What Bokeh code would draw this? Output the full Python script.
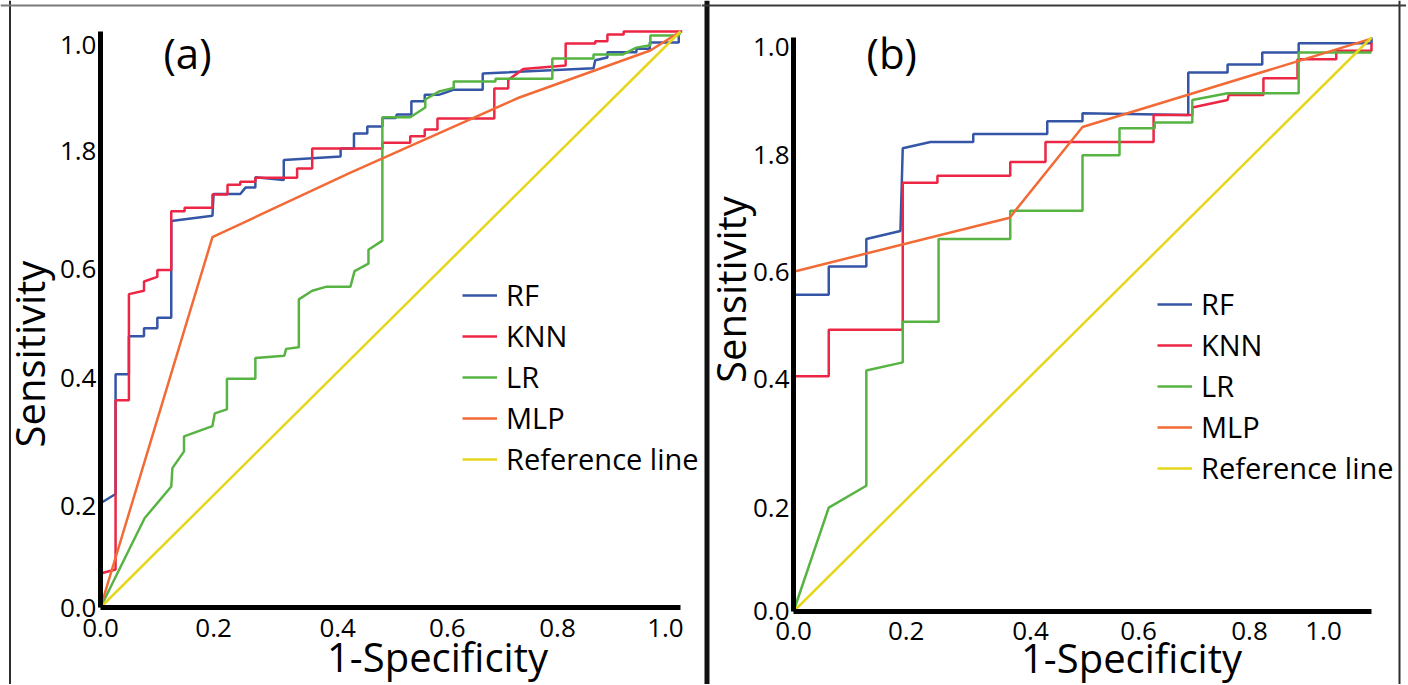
from bokeh.plotting import figure
from bokeh.layouts import row
from bokeh.models import LinearAxis, FixedTicker, Span, Label, Range1d
from bokeh.embed import file_html
from bokeh.resources import INLINE

FONT = "Open Sans"

# ---------------- data ----------------
series_names = ["RF", "KNN", "LR", "MLP", "Reference line"]
series_colors = ["#3556a6", "#ec2644", "#57b443", "#f26a36", "#e6d61c"]

# Panel (a)
a_rf_x = [0, 0.026, 0.026, 0.049, 0.049, 0.075, 0.075, 0.098, 0.098, 0.122, 0.122, 0.193, 0.195, 0.241, 0.250, 0.267, 0.267,
          0.316, 0.316, 0.414, 0.414, 0.437, 0.437, 0.460, 0.460, 0.486, 0.486, 0.509, 0.511, 0.536, 0.536, 0.559, 0.559,
          0.583, 0.595, 0.609, 0.659, 0.659, 0.850, 0.853, 0.874, 0.874, 0.924, 0.924, 0.947, 0.947, 0.997, 0.997]
a_rf_y = [0.181, 0.197, 0.405, 0.405, 0.471, 0.471, 0.485, 0.485, 0.503, 0.503, 0.671, 0.680, 0.718, 0.718, 0.729, 0.729, 0.747,
          0.742, 0.777, 0.783, 0.797, 0.797, 0.823, 0.823, 0.835, 0.835, 0.850, 0.850, 0.856, 0.856, 0.879, 0.879, 0.890,
          0.890, 0.894, 0.899, 0.899, 0.927, 0.936, 0.950, 0.955, 0.964, 0.964, 0.970, 0.970, 0.981, 0.981, 0.995]

a_knn_x = [0, 0.026, 0.026, 0.049, 0.049, 0.075, 0.075, 0.098, 0.098, 0.122, 0.122, 0.145, 0.145, 0.193, 0.193, 0.219, 0.219,
           0.241, 0.241, 0.267, 0.267, 0.339, 0.339, 0.365, 0.365, 0.486, 0.486, 0.534, 0.534, 0.559, 0.559, 0.581, 0.581,
           0.679, 0.679, 0.703, 0.703, 0.729, 0.802, 0.802, 0.853, 0.853, 0.874, 0.874, 0.902, 0.902, 1.003]
a_knn_y = [0.059, 0.066, 0.360, 0.360, 0.544, 0.550, 0.566, 0.574, 0.586, 0.586, 0.688, 0.688, 0.694, 0.694, 0.717, 0.717, 0.734,
           0.734, 0.739, 0.739, 0.746, 0.746, 0.762, 0.762, 0.797, 0.797, 0.807, 0.807, 0.818, 0.818, 0.830, 0.830, 0.849,
           0.849, 0.901, 0.901, 0.916, 0.935, 0.941, 0.979, 0.979, 0.983, 0.983, 0.995, 0.995, 1.0, 1.0]

a_lr_x = [0, 0.076, 0.122, 0.124, 0.144, 0.144, 0.193, 0.197, 0.218, 0.218, 0.267, 0.267, 0.317, 0.320, 0.342, 0.342, 0.365,
          0.390, 0.431, 0.438, 0.462, 0.462, 0.486, 0.486, 0.534, 0.560, 0.560, 0.584, 0.609, 0.609, 0.681, 0.681, 0.779,
          0.779, 0.850, 0.850, 0.900, 0.924, 0.948, 0.948, 0.997, 1.0]
a_lr_y = [0, 0.155, 0.210, 0.242, 0.271, 0.297, 0.315, 0.337, 0.344, 0.397, 0.397, 0.433, 0.437, 0.449, 0.452, 0.535, 0.550,
          0.557, 0.557, 0.584, 0.597, 0.621, 0.637, 0.851, 0.851, 0.868, 0.882, 0.896, 0.902, 0.913, 0.913, 0.918, 0.918,
          0.953, 0.953, 0.960, 0.960, 0.972, 0.976, 0.993, 0.993, 1.0]

a_mlp_x = [0, 0.193, 0.431, 0.721, 0.948, 1.0]
a_mlp_y = [0, 0.643, 0.755, 0.885, 0.967, 1.0]

# Panel (b)
b_rf_x = [0, 0.061, 0.061, 0.126, 0.126, 0.185, 0.189, 0.237, 0.311, 0.311, 0.439, 0.439, 0.5, 0.5, 0.683, 0.683, 0.751,
          0.751, 0.811, 0.811, 0.874, 0.874, 1.0, 1.0]
b_rf_y = [0.552, 0.552, 0.601, 0.601, 0.649, 0.663, 0.807, 0.818, 0.818, 0.832, 0.832, 0.854, 0.854, 0.868, 0.865, 0.939, 0.939,
          0.953, 0.953, 0.974, 0.974, 0.990, 0.990, 1.0]

b_knn_x = [0, 0.061, 0.061, 0.189, 0.189, 0.249, 0.249, 0.375, 0.375, 0.436, 0.436, 0.623, 0.623, 0.69, 0.69, 0.751, 0.753,
           0.813, 0.813, 0.872, 0.872, 0.939, 0.939, 1.0, 1.0]
b_knn_y = [0.41, 0.41, 0.491, 0.491, 0.747, 0.747, 0.759, 0.759, 0.783, 0.783, 0.818, 0.818, 0.865, 0.865, 0.878, 0.891, 0.90,
           0.90, 0.929, 0.929, 0.962, 0.962, 0.977, 0.977, 0.991]

b_lr_x = [0, 0.061, 0.126, 0.126, 0.189, 0.189, 0.251, 0.251, 0.375, 0.375, 0.5, 0.5, 0.564, 0.564, 0.625, 0.625, 0.69, 0.69,
          0.751, 0.874, 0.874, 1.0]
b_lr_y = [0, 0.181, 0.219, 0.420, 0.434, 0.505, 0.505, 0.649, 0.649, 0.698, 0.698, 0.795, 0.795, 0.842, 0.842, 0.852, 0.852,
          0.891, 0.903, 0.903, 0.974, 0.974]

b_mlp_x = [0, 0.374, 0.5, 1.0]
b_mlp_y = [0.592, 0.686, 0.844, 0.998]

ref_x = [0, 1]
ref_y = [0, 1]

# tick labels (as printed in the figure) and their positions on the axes
tick_labels_x = ["0.0", "0.2", "0.4", "0.6", "0.8", "1.0"]
tick_labels_y = ["0.0", "0.2", "0.4", "0.6", "1.8", "1.0"]
a_xtick_pos = [0.0, 0.195, 0.409, 0.598, 0.788, 0.974]
a_ytick_pos = [0.0, 0.176, 0.398, 0.588, 0.793, 0.977]
b_xtick_pos = [0.0, 0.195, 0.41, 0.597, 0.789, 0.917]
b_ytick_pos = [0.0, 0.181, 0.405, 0.592, 0.795, 0.983]

x_title = "1-Specificity"
y_title = "Sensitivity"


def make_panel(width, height, xr, yr, curves, xticks, yticks, tag, tag_pos,
               legend_loc, xt_center, yt_center, xt_standoff, yt_standoff,
               xlab_standoff, ylab_standoff, borders):
    p = figure(width=width, height=height, output_backend="svg", toolbar_location=None,
               x_axis_type=None, y_axis_type=None, min_border=0,
               x_range=Range1d(*xr), y_range=Range1d(*yr))
    p.outline_line_color = None
    p.background_fill_color = "white"
    p.border_fill_color = "white"

    # panel frame lines
    for loc, dim, col, lw in borders:
        p.add_layout(Span(location=loc, dimension=dim, line_color=col, line_width=lw))

    for (xs, ys), name, col in zip(curves, series_names, series_colors):
        p.line(xs, ys, line_color=col, line_width=2.5, legend_label=name)

    # axes with ticks
    xaxis = LinearAxis(fixed_location=0, bounds=(0, 1), ticker=FixedTicker(ticks=xticks),
                       major_label_overrides={t: l for t, l in zip(xticks, tick_labels_x)})
    yaxis = LinearAxis(fixed_location=0, bounds=(0, 1), ticker=FixedTicker(ticks=yticks),
                       major_label_overrides={t: l for t, l in zip(yticks, tick_labels_y)})
    for ax, so in ((xaxis, xlab_standoff), (yaxis, ylab_standoff)):
        ax.axis_line_width = 5
        ax.axis_line_color = "black"
        ax.major_tick_line_color = None
        ax.minor_tick_line_color = None
        ax.major_tick_out = 0
        ax.major_tick_in = 0
        ax.minor_tick_out = 0
        ax.minor_tick_in = 0
        ax.major_label_text_font = FONT
        ax.major_label_text_font_size = "26px"
        ax.major_label_text_color = "black"
        ax.major_label_standoff = so
    p.add_layout(xaxis, "below")
    p.add_layout(yaxis, "left")

    # axis titles (carried by label-only axes so they can be offset)
    xt = LinearAxis(fixed_location=0, bounds=(xt_center - 0.1, xt_center + 0.1), ticker=FixedTicker(ticks=[]),
                    axis_label=x_title)
    yt = LinearAxis(fixed_location=0, bounds=(yt_center - 0.1, yt_center + 0.1), ticker=FixedTicker(ticks=[]),
                    axis_label=y_title)
    for ax, so in ((xt, xt_standoff), (yt, yt_standoff)):
        ax.axis_line_color = None
        ax.major_tick_line_color = None
        ax.minor_tick_line_color = None
        ax.major_tick_out = 0
        ax.major_tick_in = 0
        ax.minor_tick_out = 0
        ax.minor_tick_in = 0
        ax.major_label_text_font_size = "0px"
        ax.axis_label_text_font = FONT
        ax.axis_label_text_font_size = "40px"
        ax.axis_label_text_font_style = "normal"
        ax.axis_label_text_color = "black"
        ax.axis_label_standoff = so
    p.add_layout(xt, "below")
    p.add_layout(yt, "left")

    p.add_layout(Label(x=tag_pos[0], y=tag_pos[1], text=tag, text_font=FONT, text_font_size="42px",
                       text_align="center", text_baseline="middle", text_color="black"))

    lg = p.legend[0]
    lg.location = legend_loc
    lg.background_fill_alpha = 0
    lg.border_line_color = None
    lg.padding = 0
    lg.margin = 0
    lg.spacing = 2
    lg.glyph_width = 35
    lg.glyph_height = 30
    lg.label_standoff = 9
    lg.label_text_font = FONT
    lg.label_text_font_size = "29px"
    lg.label_text_color = "black"
    return p


# panel (a): canvas spans page x 0..701
pa = make_panel(
    701, 684, (-0.17241, 1.03621), (-0.13368, 1.05382),
    [(a_rf_x, a_rf_y), (a_knn_x, a_knn_y), (a_lr_x, a_lr_y), (a_mlp_x, a_mlp_y), (ref_x, ref_y)],
    a_xtick_pos, a_ytick_pos, "(a)", (0.15, 0.963), (462, 206),
    0.581, 0.44, 21, 44, 11, 4,
    [(-0.15603, "height", "#2e2e2e", 2), (1.04514, "width", "#7a7a7a", 2)])

# panel (b): canvas spans page x 701..1406
pb = make_panel(
    705, 684, (-0.15917, 1.06055), (-0.12718, 1.06446),
    [(b_rf_x, b_rf_y), (b_knn_x, b_knn_y), (b_lr_x, b_lr_y), (b_mlp_x, b_mlp_y), (ref_x, ref_y)],
    b_xtick_pos, b_ytick_pos, "(b)", (0.17, 0.974), (456, 197),
    0.585, 0.561, 18, 36, 11, 4,
    [(-0.14965, "height", "#111111", 5), (1.04844, "height", "#2e2e2e", 2), (1.05575, "width", "#3a3a3a", 2)])

layout = row(pa, pb)
open("out.html", "w").write(file_html(layout, INLINE))
